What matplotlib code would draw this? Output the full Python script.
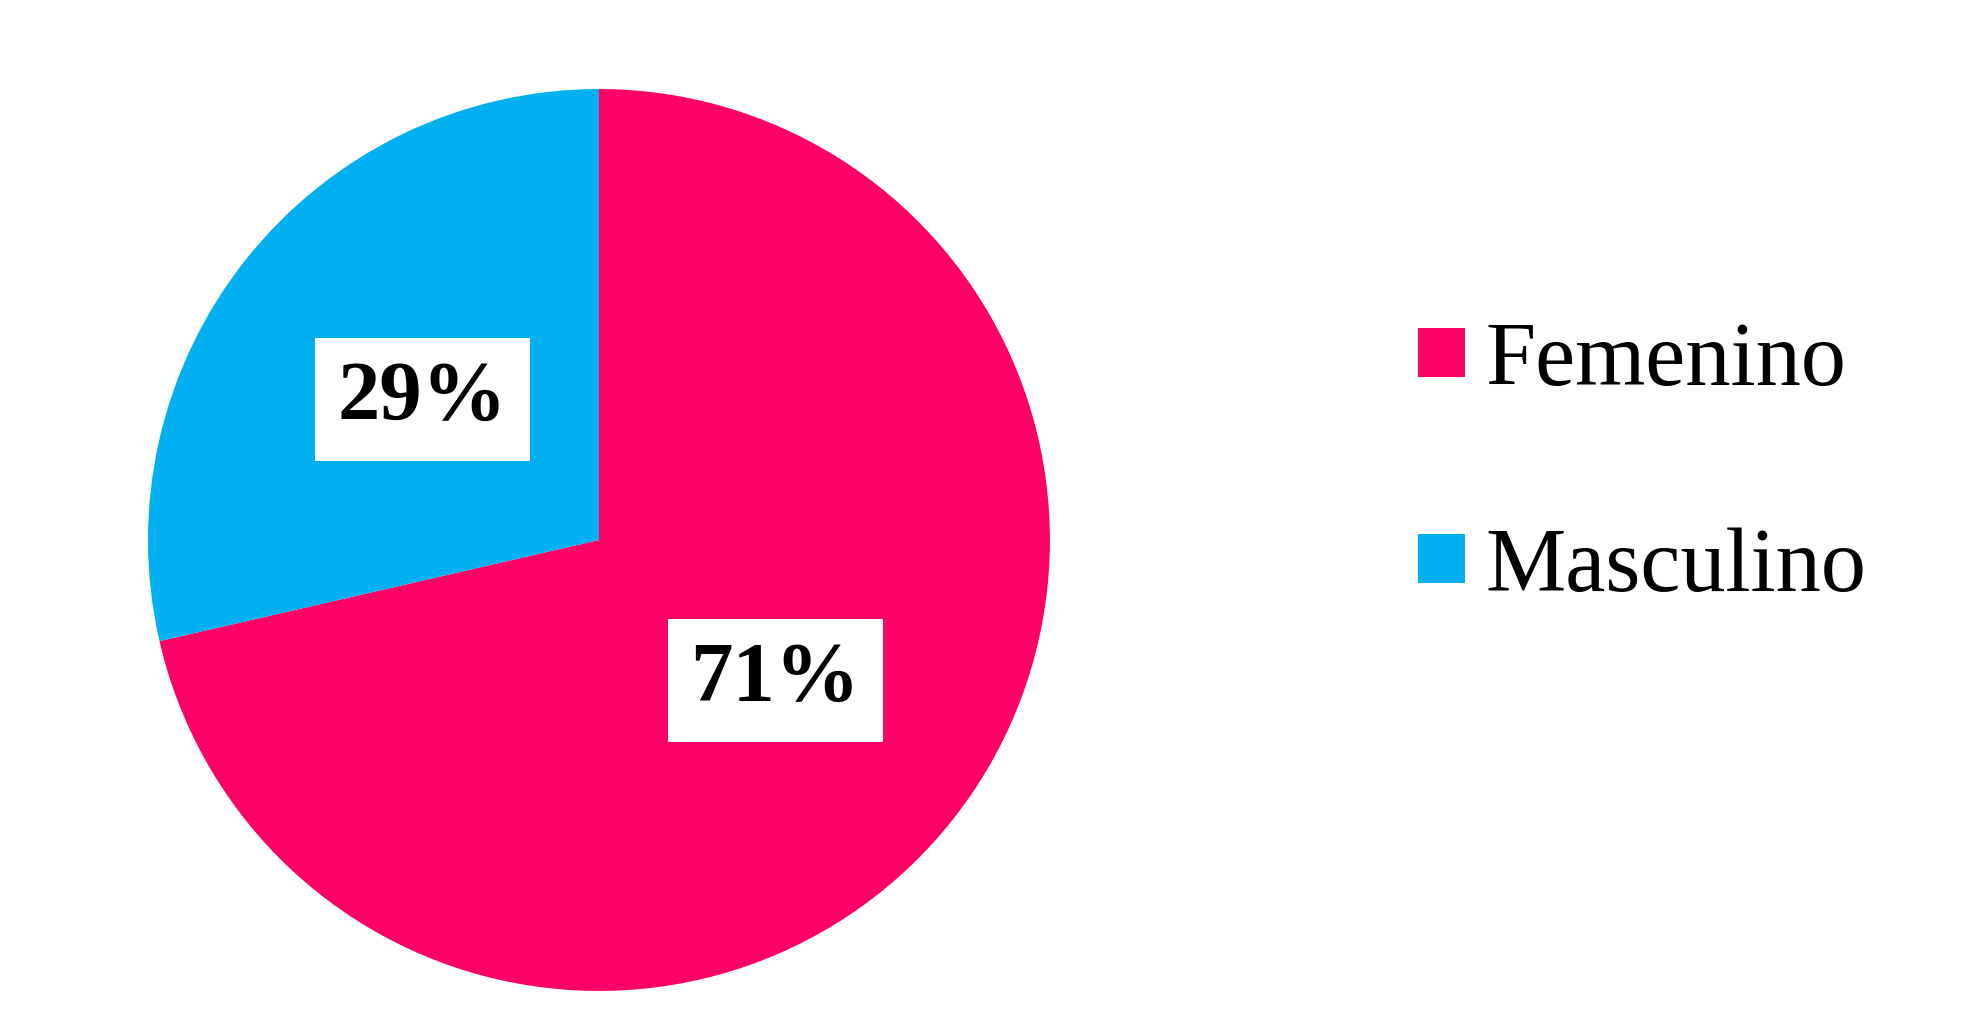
import matplotlib.pyplot as plt
from matplotlib.patches import Patch

# Data
categories = ['Femenino', 'Masculino']
values = [71.4, 28.6]
colors = ['#FF0066', '#00B0F0']

plt.rcParams['font.family'] = ['Liberation Serif', 'DejaVu Serif']

fig = plt.figure(figsize=(19.84, 10.23), dpi=100)
ax = fig.add_axes([0.0746, 0.0313, 0.4546, 0.8817])

# Pie starting at top, going clockwise
wedges, texts, autotexts = ax.pie(
    values, colors=colors, startangle=90, counterclock=False,
    autopct='%1.0f%%', pctdistance=0.5, radius=1,
    textprops={'fontsize': 61, 'fontweight': 'bold', 'color': 'black'})

# White boxes behind the percentages
for t in autotexts:
    t.set_bbox(dict(facecolor='white', edgecolor='none', boxstyle='square,pad=0.27'))

ax.set_xlim(-1, 1)
ax.set_ylim(-1, 1)
ax.set_aspect('equal')
ax.axis('off')

# Legend
handles = [Patch(facecolor=c, edgecolor='none') for c in colors]
fig.legend(handles, categories, loc='center left', bbox_to_anchor=(0.7147, 0.545),
           frameon=False, fontsize=65, borderpad=0, borderaxespad=0,
           handlelength=0.52, handleheight=0.46, handletextpad=0.23,
           labelspacing=1.37)

plt.savefig('out.png', dpi=100, facecolor='white')
